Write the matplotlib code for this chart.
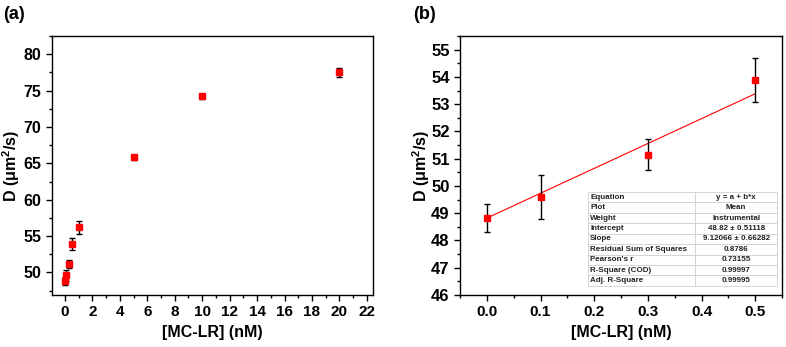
import numpy as np
import matplotlib
matplotlib.use("Agg")
import matplotlib.pyplot as plt
from matplotlib.ticker import MultipleLocator

plt.rcParams['font.family'] = ['Liberation Sans', 'DejaVu Sans']
plt.rcParams['font.weight'] = 'bold'
plt.rcParams['mathtext.fontset'] = 'custom'
plt.rcParams['mathtext.rm'] = 'Liberation Sans:bold'
plt.rcParams['mathtext.bf'] = 'Liberation Sans:bold'
plt.rcParams['mathtext.it'] = 'Liberation Sans:bold'

# panel (a) data
conc_a = [0, 0.1, 0.3, 0.5, 1, 5, 10, 20]
D_a = [48.82, 49.6, 51.15, 53.9, 56.2, 65.8, 74.2, 77.5]
err_a = [0.51, 0.8, 0.57, 0.8, 0.9, 0.4, 0.35, 0.6]

# panel (b) data
conc_b = [0, 0.1, 0.3, 0.5]
D_b = [48.82, 49.6, 51.15, 53.9]
err_b = [0.51, 0.8, 0.57, 0.81]

intercept = 48.82
slope = 9.12066

fit_rows = [
    ["Equation", "y = a + b*x"],
    ["Plot", "Mean"],
    ["Weight", "Instrumental"],
    ["Intercept", "48.82 \u00b1 0.51118"],
    ["Slope", "9.12066 \u00b1 0.66282"],
    ["Residual Sum of Squares", "0.8786"],
    ["Pearson's r", "0.73155"],
    ["R-Square (COD)", "0.99997"],
    ["Adj. R-Square", "0.99995"],
]

fig = plt.figure(figsize=(7.86, 3.47), dpi=100)
W, H = 786, 347
ax1 = fig.add_axes([52 / W, 1 - 295 / H, 321 / W, 259 / H])
ax2 = fig.add_axes([460 / W, 1 - 295 / H, 322 / W, 259 / H])

ylab = 'D (\u03bcm$^{2}$/s)'


def style(ax):
    for s in ax.spines.values():
        s.set_linewidth(1.0)
    ax.tick_params(which='major', direction='out', length=4, width=1, labelsize=11)
    ax.tick_params(which='minor', direction='out', length=2, width=1)
    for lab in ax.get_xticklabels() + ax.get_yticklabels():
        lab.set_fontweight('bold')


ax1.errorbar(conc_a, D_a, yerr=err_a, fmt='s', color='red', markersize=4.2,
             ecolor='black', elinewidth=1, capsize=2.3, capthick=1)
ax1.set_xlim(-0.95, 22.45)
ax1.set_ylim(46.9, 82.5)
ax1.xaxis.set_major_locator(MultipleLocator(2))
ax1.xaxis.set_minor_locator(MultipleLocator(1))
ax1.yaxis.set_major_locator(MultipleLocator(5))
ax1.yaxis.set_minor_locator(MultipleLocator(2.5))
ax1.set_xlabel('[MC-LR] (nM)', fontsize=11.5, fontweight='bold')
ax1.set_ylabel(ylab, fontsize=11.5, fontweight='bold')
ax1.yaxis.set_label_coords(-0.093, 0.5)
style(ax1)
ax1.tick_params(axis='y', labelsize=11.5)

xfit = np.array([min(conc_b), max(conc_b)])
ax2.plot(xfit, intercept + slope * xfit, color='red', linewidth=0.8)
ax2.errorbar(conc_b, D_b, yerr=err_b, fmt='s', color='red', markersize=4.5,
             ecolor='black', elinewidth=1, capsize=2.3, capthick=1)
ax2.set_xlim(-0.05, 0.55)
ax2.set_ylim(46, 55.5)
ax2.xaxis.set_major_locator(MultipleLocator(0.1))
ax2.xaxis.set_minor_locator(MultipleLocator(0.05))
ax2.yaxis.set_major_locator(MultipleLocator(1))
ax2.yaxis.set_minor_locator(MultipleLocator(0.5))
ax2.set_xlabel('[MC-LR] (nM)', fontsize=11.5, fontweight='bold')
ax2.set_ylabel(ylab, fontsize=11.5, fontweight='bold')
ax2.yaxis.set_label_coords(-0.087, 0.5)
style(ax2)
ax2.tick_params(axis='y', labelsize=12)

tab = ax2.table(cellText=fit_rows, bbox=[0.398, 0.035, 0.587, 0.363],
                colWidths=[0.566, 0.434])
tab.auto_set_font_size(False)
for (r, c), cell in tab.get_celld().items():
    cell.set_edgecolor('#d0d0d0')
    cell.set_linewidth(0.6)
    cell.set_facecolor('white')
    txt = cell.get_text()
    txt.set_fontsize(5.8)
    txt.set_fontweight('bold')
    txt.set_color('#222222')
    if c == 0:
        cell.set_text_props(ha='left')
        cell.PAD = 0.02
    else:
        cell.set_text_props(ha='center')

fig.text(3 / W, 1 - 14.5 / H, '(a)', fontsize=13, fontweight='bold', va='center')
fig.text(413 / W, 1 - 14.5 / H, '(b)', fontsize=13, fontweight='bold', va='center')

fig.savefig('out.png', dpi=100)
